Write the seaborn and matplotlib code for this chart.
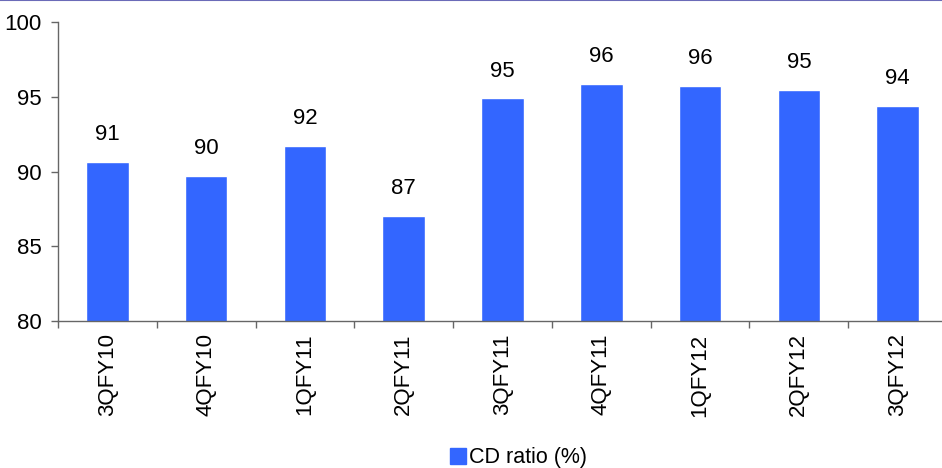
import numpy as np
import matplotlib
matplotlib.use("Agg")
import matplotlib.pyplot as plt
import seaborn as sns
from matplotlib.lines import Line2D

quarters = ["3QFY10", "4QFY10", "1QFY11", "2QFY11", "3QFY11",
            "4QFY11", "1QFY12", "2QFY12", "3QFY12"]
cd_ratio = [90.65, 89.7, 91.7, 87.05, 94.9, 95.85, 95.75, 95.45, 94.4]
y_ticks = [80, 85, 90, 95, 100]
series_name = "CD ratio (%)"

bar_color = "#3366FF"

sns.set_theme(style="white")
plt.rcParams["font.family"] = ["Liberation Sans", "DejaVu Sans"]
plt.rcParams["text.color"] = "black"
plt.rcParams["xtick.labelcolor"] = "black"
plt.rcParams["ytick.labelcolor"] = "black"

fig = plt.figure(figsize=(9.42, 4.68), dpi=100)
# plot area runs slightly past the right edge of the canvas
ax = fig.add_axes([58 / 942, (468 - 321) / 468, 889 / 942, (321 - 22) / 468])

sns.barplot(x=quarters, y=cd_ratio, color=bar_color, width=0.43,
            saturation=1, ax=ax, legend=False)

ax.set_ylim(80, 100)
ax.set_xlim(-0.5, len(quarters) - 0.5)
ax.set_yticks(y_ticks)
ax.set_yticklabels([str(t) for t in y_ticks], fontsize=16)
ax.set_xticks(range(len(quarters)))
ax.set_xticklabels(quarters, rotation=90, fontsize=16)
ax.set_xticks(np.arange(-0.5, len(quarters) - 1, 1), minor=True)
ax.tick_params(axis="x", which="major", length=0, pad=9, labelcolor="black")
ax.tick_params(axis="x", which="minor", length=5, width=1, color="#666666",
               direction="out", bottom=True)
ax.tick_params(axis="y", length=5, width=1, color="#666666", direction="out",
               left=True, pad=7, labelcolor="black")
ax.set_xlabel("")
ax.set_ylabel("")

for side in ["top", "right"]:
    ax.spines[side].set_visible(False)
for side in ["left", "bottom"]:
    ax.spines[side].set_color("#666666")
    ax.spines[side].set_linewidth(1)

for i, v in enumerate(cd_ratio):
    ax.annotate(f"{v:.0f}", (i, v), xytext=(0, 12), textcoords="offset points",
                ha="center", va="bottom", fontsize=16, color="black")

handle = Line2D([], [], marker="s", linestyle="none", markersize=12,
                markerfacecolor=bar_color, markeredgecolor=bar_color)
fig.legend([handle], [series_name], loc="center", bbox_to_anchor=(518 / 942, 1 - 458 / 468),
           frameon=False, fontsize=15.5, handletextpad=0.1, borderpad=0,
           handlelength=0.8, labelcolor="black")

# thin rule across the top edge
fig.add_artist(Line2D([0, 1], [0.999, 0.999], transform=fig.transFigure,
                      color="#6B6BB8", linewidth=1.5))

fig.savefig("out.png", dpi=100)
